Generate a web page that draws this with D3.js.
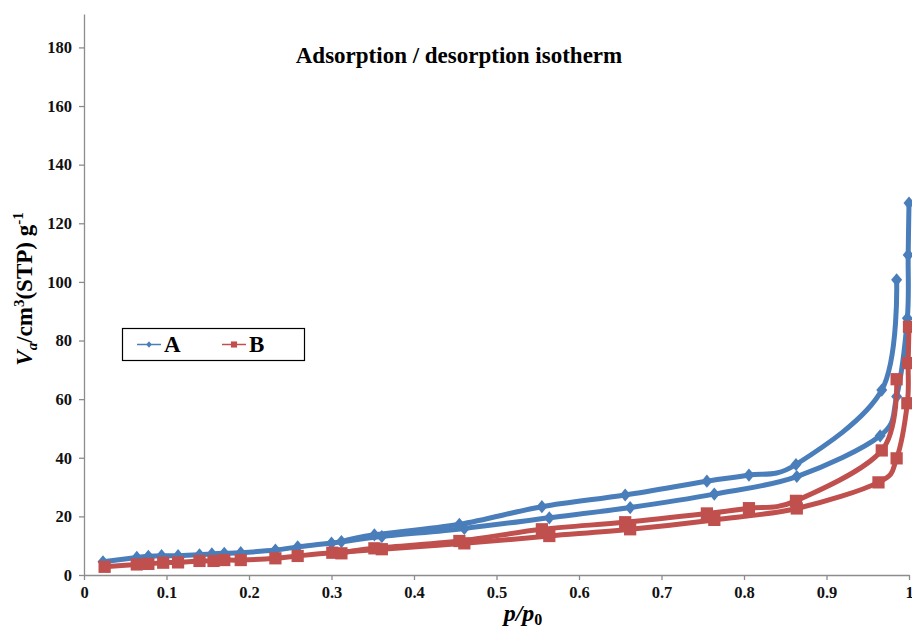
<!DOCTYPE html>
<html>
<head>
<meta charset="utf-8">
<script src="https://cdn.jsdelivr.net/npm/d3@7"></script>
<style>
  body { margin: 0; background: #fff; }
  svg { display: block; font-family: "Liberation Serif", "Times New Roman", serif; }
</style>
</head>
<body>
<div id="chart"></div>
<script>
'use strict';

/* data */
var xTicks = [0, 0.1, 0.2, 0.3, 0.4, 0.5, 0.6, 0.7, 0.8, 0.9, 1];
var yTicks = [0, 20, 40, 60, 80, 100, 120, 140, 160, 180];

var aAdsP = [0.023, 0.064, 0.078, 0.094, 0.114, 0.140, 0.155, 0.170, 0.190, 0.232, 0.259, 0.300, 0.361, 0.461, 0.564, 0.662, 0.764, 0.864, 0.965, 0.985, 0.998, 0.999, 1.000];
var aAdsV = [4.5, 6.0, 6.4, 6.6, 6.6, 6.9, 7.2, 7.4, 7.6, 8.5, 9.6, 10.9, 13.1, 15.9, 19.5, 23.0, 27.6, 33.6, 47.5, 60.9, 87.6, 109.2, 126.9];
var aDesP = [0.985, 0.967, 0.863, 0.806, 0.755, 0.656, 0.555, 0.455, 0.352, 0.312];
var aDesV = [100.7, 63.1, 37.7, 34.1, 32.0, 27.3, 23.3, 17.3, 13.7, 11.4];

var bAdsP = [0.025, 0.064, 0.078, 0.096, 0.114, 0.140, 0.157, 0.170, 0.190, 0.232, 0.259, 0.301, 0.361, 0.461, 0.564, 0.662, 0.764, 0.864, 0.963, 0.985, 0.998, 0.999, 1.000];
var bAdsV = [2.8, 3.6, 3.8, 4.2, 4.3, 4.8, 4.8, 5.1, 5.1, 5.7, 6.5, 7.6, 8.8, 10.8, 13.3, 15.6, 18.8, 22.7, 31.6, 39.8, 58.6, 72.3, 84.7];
var bDesP = [0.985, 0.967, 0.863, 0.806, 0.755, 0.656, 0.555, 0.455, 0.352, 0.312];
var bDesV = [66.8, 42.5, 25.3, 22.8, 21.0, 18.0, 15.6, 11.6, 9.1, 7.4];

var width = 912;
var height = 634;
var blue = '#4a7ebb';
var red = '#c0504d';
var axisColor = '#8c8c8c';

var x = d3.scaleLinear().domain([0, 1]).range([84, 909]);
var y = d3.scaleLinear().domain([0, 191.4]).range([575, 14]);

var svg = d3.select('#chart')
  .append('svg')
  .attr('width', width)
  .attr('height', height);

/* axes */
var yAxis = svg.append('g')
  .attr('transform', 'translate(' + x(0) + ',0)')
  .call(d3.axisLeft(y).tickValues(yTicks).tickSize(5).tickPadding(7).tickSizeOuter(0));
var xAxis = svg.append('g')
  .attr('transform', 'translate(0,' + y(0) + ')')
  .call(d3.axisBottom(x).tickValues(xTicks).tickSize(5).tickPadding(6).tickSizeOuter(0)
    .tickFormat(function(d) { return d === 0 || d === 1 ? String(d) : d.toFixed(1); }));

[xAxis, yAxis].forEach(function(g) {
  g.attr('font-family', null);
  g.select('.domain').attr('stroke', axisColor).attr('stroke-width', 1.3);
  g.selectAll('.tick line').attr('stroke', axisColor).attr('stroke-width', 1.3);
  g.selectAll('.tick text')
    .attr('fill', '#111')
    .style('font-family', '"Liberation Serif", serif')
    .style('font-weight', 'bold')
    .style('font-size', '16.5px');
});

/* marker shapes: diamond a bit taller than wide, like the Excel one */
var diamond = {
  draw: function(ctx, size) {
    var w = Math.sqrt(size) * 0.5, h = w * 1.2;
    ctx.moveTo(0, -h);
    ctx.lineTo(w, 0);
    ctx.lineTo(0, h);
    ctx.lineTo(-w, 0);
    ctx.closePath();
  }
};

/* series */
function zip(ps, vs) {
  return ps.map(function(p, i) { return [p, vs[i]]; });
}
var series = [
  { name: 'A', color: blue, shape: diamond, size: 121, branches: [zip(aAdsP, aAdsV), zip(aDesP, aDesV)] },
  { name: 'B', color: red, shape: d3.symbolSquare, size: 150, branches: [zip(bAdsP, bAdsV), zip(bDesP, bDesV)] }
];

var line = d3.line()
  .x(function(d) { return x(d[0]); })
  .y(function(d) { return y(d[1]); })
  .curve(d3.curveCatmullRom.alpha(0));

series.forEach(function(s) {
  var g = svg.append('g');
  s.branches.forEach(function(pts) {
    g.append('path')
      .attr('d', line(pts))
      .attr('fill', 'none')
      .attr('stroke', s.color)
      .attr('stroke-width', 5)
      .attr('stroke-linejoin', 'round')
      .attr('stroke-linecap', 'round');
  });
  s.branches.forEach(function(pts) {
    g.selectAll(null)
      .data(pts)
      .enter()
      .append('path')
      .attr('d', d3.symbol().type(s.shape).size(s.size))
      .attr('transform', function(d) { return 'translate(' + x(d[0]) + ',' + y(d[1]) + ')'; })
      .attr('fill', s.color);
  });
});

/* title */
svg.append('text')
  .attr('x', 459)
  .attr('y', 63)
  .attr('text-anchor', 'middle')
  .style('font-weight', 'bold')
  .style('font-size', '23px')
  .text('Adsorption / desorption isotherm');

/* legend */
var legend = svg.append('g');
legend.append('rect')
  .attr('x', 122.5).attr('y', 328.5)
  .attr('width', 182).attr('height', 32)
  .attr('fill', '#fff')
  .attr('stroke', '#000')
  .attr('stroke-width', 1.2);
var legendX = [137, 222];
series.forEach(function(s, i) {
  var lx = legendX[i];
  legend.append('line')
    .attr('x1', lx).attr('x2', lx + 24)
    .attr('y1', 344.5).attr('y2', 344.5)
    .attr('stroke', s.color)
    .attr('stroke-width', 1.5);
  legend.append('path')
    .attr('d', d3.symbol().type(s.shape).size(s.size / 4))
    .attr('transform', 'translate(' + (lx + 12) + ',344.5)')
    .attr('fill', s.color);
  legend.append('text')
    .attr('x', lx + 27)
    .attr('y', 352)
    .style('font-weight', 'bold')
    .style('font-size', '23px')
    .text(s.name);
});

/* y axis title */
var yt = svg.append('text')
  .attr('transform', 'translate(32,289) rotate(-90)')
  .attr('text-anchor', 'middle')
  .style('font-weight', 'bold')
  .style('font-size', '23px');
yt.append('tspan').style('font-style', 'italic').text('V');
yt.append('tspan').style('font-style', 'italic').style('font-size', '15px').attr('dy', 5).text('a');
yt.append('tspan').attr('dy', -5).text('/cm');
yt.append('tspan').style('font-size', '15px').attr('dy', -8).text('3');
yt.append('tspan').attr('dy', 8).text('(STP) g');
yt.append('tspan').style('font-size', '15px').attr('dy', -9).text('-1');

/* x axis title */
var xt = svg.append('text')
  .attr('x', 523)
  .attr('y', 621)
  .attr('text-anchor', 'middle')
  .style('font-weight', 'bold')
  .style('font-size', '24px');
xt.append('tspan').style('font-style', 'italic').text('p');
xt.append('tspan').style('font-style', 'italic').text('/');
xt.append('tspan').style('font-style', 'italic').text('p');
xt.append('tspan').style('font-size', '16px').attr('dy', 4).text('0');
</script>
</body>
</html>
